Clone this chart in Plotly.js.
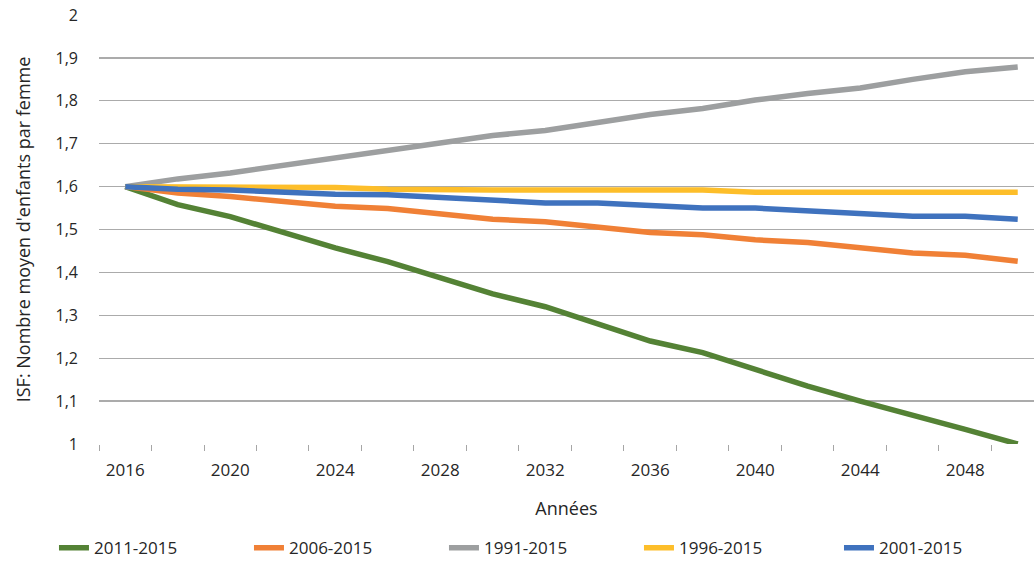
<!DOCTYPE html>
<html>
<head>
<meta charset="utf-8">
<script src="https://cdn.plot.ly/plotly-3.0.1.min.js"></script>
<style>html,body{margin:0;padding:0;background:#fff}#chart{width:1034px;height:564px}</style>
</head>
<body>
<div id="chart"></div>
<script>
const years = [2016,2018,2020,2022,2024,2026,2028,2030,2032,2034,2036,2038,2040,2042,2044,2046,2048,2050];
const tickYears = [2016,2020,2024,2028,2032,2036,2040,2044,2048];
const s2011_2015 = [1.600,1.558,1.530,1.493,1.457,1.425,1.388,1.350,1.320,1.280,1.240,1.213,1.173,1.135,1.100,1.068,1.034,1.000];
const s2006_2015 = [1.600,1.585,1.577,1.566,1.554,1.549,1.537,1.524,1.518,1.505,1.493,1.488,1.476,1.470,1.458,1.445,1.440,1.426];
const s1991_2015 = [1.600,1.618,1.632,1.650,1.668,1.683,1.702,1.719,1.731,1.750,1.768,1.782,1.802,1.817,1.830,1.850,1.868,1.879];
const s1996_2015 = [1.600,1.600,1.600,1.599,1.598,1.594,1.592,1.592,1.592,1.592,1.592,1.592,1.587,1.587,1.587,1.587,1.587,1.587];
const s2001_2015 = [1.600,1.594,1.592,1.587,1.582,1.581,1.575,1.569,1.562,1.562,1.556,1.550,1.550,1.544,1.538,1.531,1.531,1.524];
const names = ['2011-2015','2006-2015','1991-2015','1996-2015','2001-2015'];
const series = [s2011_2015,s2006_2015,s1991_2015,s1996_2015,s2001_2015];
const colors = ['#548235','#F08036','#9D9FA0','#FDBE2A','#3F72BE'];

const traces = series.map((s,i)=>({
  type:'scatter', mode:'lines', x:years, y:s, name:names[i],
  legend: i === 4 ? 'legend2' : 'legend',
  line:{color:colors[i], width:5.5, shape:'linear'}
}));

const font = 'Open Sans, DejaVu Sans, sans-serif';
const legendBase = {orientation:'h', xref:'container', yref:'container', y:0.028, xanchor:'left', yanchor:'middle',
          font:{size:17, color:'#262626'}, entrywidth:150, entrywidthmode:'pixels', traceorder:'normal', bgcolor:'rgba(0,0,0,0)'};
const layout = {
  width:1034, height:564,
  margin:{l:99, r:0, t:15, b:120},
  paper_bgcolor:'#fff', plot_bgcolor:'#fff',
  font:{family:font, color:'#262626', size:16},
  separators:', ',
  showlegend:true,
  legend:Object.assign({}, legendBase, {x:0.0522}),
  legend2:Object.assign({}, legendBase, {x:0.8114}),
  xaxis:{
    range:[2015, 2050.62], tickmode:'array', tickvals:tickYears, ticktext:tickYears.map(String),
    ticks:'', showgrid:false, zeroline:false, showline:false,
    tickfont:{size:17, color:'#262626'}, ticklabelstandoff:14,
    minor:{tick0:2015, dtick:2, ticks:'outside', ticklen:6, tickcolor:'#a6a6a6', showgrid:false},
    title:{text:'Années', font:{size:18, color:'#262626'}, standoff:22}
  },
  yaxis:{
    range:[1, 2.0001], tickmode:'array', tickvals:[1,1.1,1.2,1.3,1.4,1.5,1.6,1.7,1.8,1.9,2],
    ticktext:['1','1,1','1,2','1,3','1,4','1,5','1,6','1,7','1,8','1,9','2'],
    showgrid:true, gridcolor:'#ababab', gridwidth:1.3, zeroline:false, showline:false, ticks:'',
    tickfont:{size:16, color:'#262626'}, ticklabelstandoff:20,
    title:{text:"ISF: Nombre moyen d'enfants par femme", font:{size:18, color:'#262626'}, standoff:20}
  }
};
Plotly.newPlot('chart', traces, layout, {displayModeBar:false, staticPlot:true});
</script>
</body>
</html>
